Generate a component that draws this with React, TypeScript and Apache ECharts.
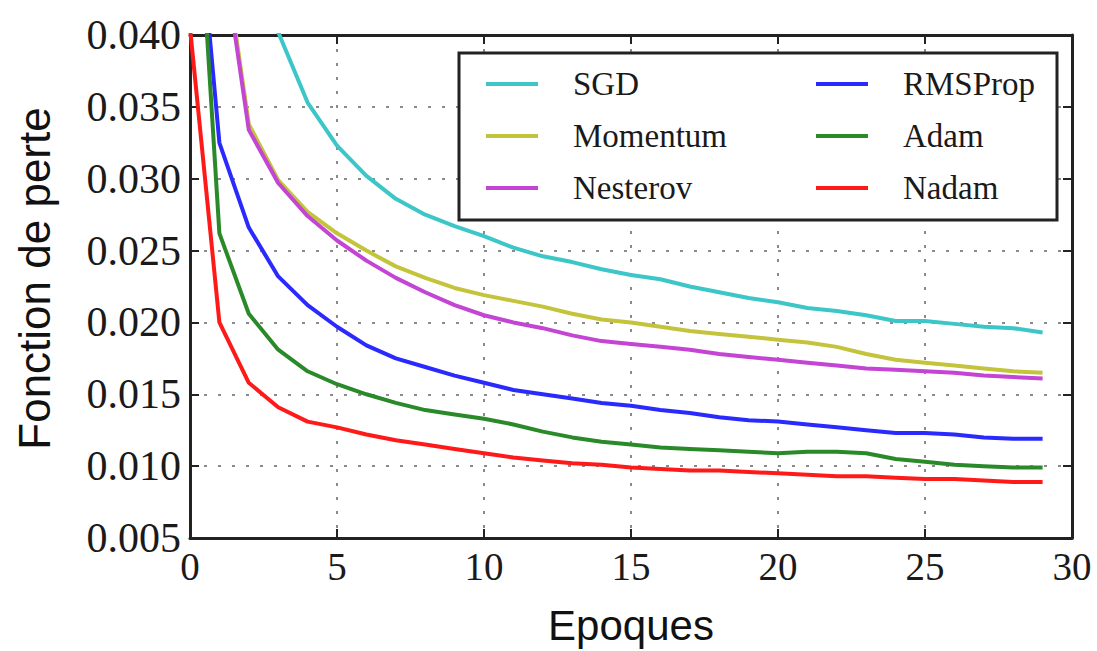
import React, { useEffect, useRef } from "react";
import * as echarts from "echarts";

const epochs: number[] = Array.from({ length: 30 }, (_, i) => i);

const seriesNames = ["SGD", "Momentum", "Nesterov", "RMSProp", "Adam", "Nadam"];
const seriesColors = ["#3cc6c8", "#c4c43c", "#c444d4", "#2a2aff", "#2a8a2a", "#ff1a1a"];

const sgd = [0.080, 0.060, 0.047, 0.0402, 0.0353, 0.0323, 0.0302, 0.0286, 0.0275, 0.0267, 0.0260, 0.0252, 0.0246, 0.0242, 0.0237, 0.0233, 0.0230, 0.0225, 0.0221, 0.0217, 0.0214, 0.0210, 0.0208, 0.0205, 0.0201, 0.0201, 0.0199, 0.0197, 0.0196, 0.0193];
const momentum = [0.075, 0.048, 0.0338, 0.0299, 0.0277, 0.0262, 0.0250, 0.0239, 0.0231, 0.0224, 0.0219, 0.0215, 0.0211, 0.0206, 0.0202, 0.0200, 0.0197, 0.0194, 0.0192, 0.0190, 0.0188, 0.0186, 0.0183, 0.0178, 0.0174, 0.0172, 0.0170, 0.0168, 0.0166, 0.0165];
const nesterov = [0.074, 0.0475, 0.0334, 0.0297, 0.0274, 0.0257, 0.0243, 0.0231, 0.0221, 0.0212, 0.0205, 0.0200, 0.0196, 0.0191, 0.0187, 0.0185, 0.0183, 0.0181, 0.0178, 0.0176, 0.0174, 0.0172, 0.0170, 0.0168, 0.0167, 0.0166, 0.0165, 0.0163, 0.0162, 0.0161];
const rmsprop = [0.055, 0.0325, 0.0266, 0.0232, 0.0212, 0.0197, 0.0184, 0.0175, 0.0169, 0.0163, 0.0158, 0.0153, 0.0150, 0.0147, 0.0144, 0.0142, 0.0139, 0.0137, 0.0134, 0.0132, 0.0131, 0.0129, 0.0127, 0.0125, 0.0123, 0.0123, 0.0122, 0.0120, 0.0119, 0.0119];
const adam = [0.059, 0.0262, 0.0206, 0.0181, 0.0166, 0.0157, 0.0150, 0.0144, 0.0139, 0.0136, 0.0133, 0.0129, 0.0124, 0.0120, 0.0117, 0.0115, 0.0113, 0.0112, 0.0111, 0.0110, 0.0109, 0.0110, 0.0110, 0.0109, 0.0105, 0.0103, 0.0101, 0.0100, 0.0099, 0.0099];
const nadam = [0.0405, 0.0200, 0.0158, 0.0141, 0.0131, 0.0127, 0.0122, 0.0118, 0.0115, 0.0112, 0.0109, 0.0106, 0.0104, 0.0102, 0.0101, 0.0099, 0.0098, 0.0097, 0.0097, 0.0096, 0.0095, 0.0094, 0.0093, 0.0093, 0.0092, 0.0091, 0.0091, 0.0090, 0.0089, 0.0089];

const allValues = [sgd, momentum, nesterov, rmsprop, adam, nadam];

const xTicks = { min: 0, max: 30, interval: 5 };
const yTicks = { min: 0.005, max: 0.04, interval: 0.005 };

const xTitle = "Epoques";
const yTitle = "Fonction de perte";

export default function App() {
  const ref = useRef<HTMLDivElement>(null);

  useEffect(() => {
    if (!ref.current) return;
    const chart = echarts.init(ref.current, null, { renderer: "svg" });
    const serif = "'Liberation Serif', 'DejaVu Serif', serif";
    const sans = "'Liberation Sans', Arial, sans-serif";
    const dotted = { color: "#8a8a8a", width: 2, type: [3, 11] as any };

    const series: any[] = allValues.map((vals, i) => ({
      name: seriesNames[i],
      type: "line",
      data: epochs.map((e, k) => [e, vals[k]]),
      showSymbol: false,
      symbol: "none",
      clip: true,
      lineStyle: { color: seriesColors[i], width: 4 },
      itemStyle: { color: seriesColors[i] },
      z: 3,
    }));

    const legendCommon = {
      orient: "vertical",
      icon: "rect",
      itemWidth: 52,
      itemHeight: 4,
      itemGap: 18,
      z: 20,
      textStyle: {
        fontFamily: serif,
        fontSize: 33,
        color: "#1a1a1a",
        lineHeight: 34,
        padding: [0, 0, 0, 30],
      },
    };

    chart.setOption({
      animation: false,
      backgroundColor: "#ffffff",
      grid: { left: 190, top: 35, width: 882, height: 506, show: false },
      legend: [
        { ...legendCommon, left: 481, top: 62, data: seriesNames.slice(0, 3) },
        { ...legendCommon, left: 811, top: 62, data: seriesNames.slice(3, 6) },
      ],
      graphic: [
        {
          type: "rect",
          z: 15,
          shape: { x: 459, y: 53, width: 598, height: 167 },
          style: { fill: "#ffffff", stroke: "#222222", lineWidth: 3 },
        },
      ],
      xAxis: [
        {
          type: "value",
          ...xTicks,
          position: "bottom",
          name: xTitle,
          nameLocation: "middle",
          nameGap: 66,
          nameTextStyle: { fontFamily: sans, fontSize: 42, color: "#111" },
          axisLine: { show: true, onZero: false, lineStyle: { color: "#222", width: 3 } },
          axisTick: { show: true, inside: true, length: 9, lineStyle: { color: "#222", width: 2 } },
          axisLabel: {
            fontFamily: serif,
            fontSize: 39,
            color: "#1a1a1a",
            margin: 9,
            formatter: (v: number) => String(v),
          },
          splitLine: { show: true, lineStyle: dotted },
        },
        {
          type: "value",
          ...xTicks,
          position: "top",
          axisLine: { show: true, onZero: false, lineStyle: { color: "#222", width: 3 } },
          axisTick: { show: true, inside: true, length: 9, lineStyle: { color: "#222", width: 2 } },
          axisLabel: { show: false },
          splitLine: { show: false },
        },
      ],
      yAxis: [
        {
          type: "value",
          ...yTicks,
          position: "left",
          name: yTitle,
          nameLocation: "middle",
          nameGap: 134,
          nameRotate: 90,
          nameTextStyle: { fontFamily: sans, fontSize: 44, color: "#111", padding: [0, 0, 0, 16] },
          axisLine: { show: true, onZero: false, lineStyle: { color: "#222", width: 3 } },
          axisTick: { show: true, inside: true, length: 9, lineStyle: { color: "#222", width: 2 } },
          axisLabel: {
            fontFamily: serif,
            fontSize: 42,
            color: "#1a1a1a",
            margin: 9,
            formatter: (v: number) => v.toFixed(3),
          },
          splitLine: { show: true, lineStyle: dotted },
        },
        {
          type: "value",
          ...yTicks,
          position: "right",
          axisLine: { show: true, onZero: false, lineStyle: { color: "#222", width: 3 } },
          axisTick: { show: true, inside: true, length: 9, lineStyle: { color: "#222", width: 2 } },
          axisLabel: { show: false },
          splitLine: { show: false },
        },
      ],
      series,
    });

    return () => chart.dispose();
  }, []);

  return (
    <div
      ref={ref}
      style={{ position: "fixed", left: 0, top: 0, width: 1097, height: 651, background: "#fff" }}
    />
  );
}
